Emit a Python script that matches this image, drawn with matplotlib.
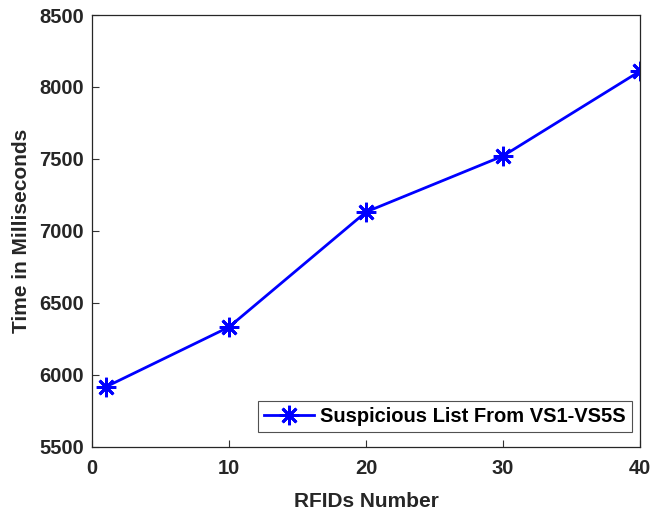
import matplotlib
matplotlib.use("Agg")
import matplotlib.pyplot as plt

# data
rfids = [1, 10, 20, 30, 40]
times = [5917, 6333, 7132, 7521, 8110]
xticks = [0, 10, 20, 30, 40]
yticks = [5500, 6000, 6500, 7000, 7500, 8000, 8500]

plt.rcParams['font.family'] = ['Liberation Sans', 'DejaVu Sans']
plt.rcParams['font.weight'] = 'bold'

fig = plt.figure(figsize=(6.54, 5.12), dpi=100)
ax = fig.add_axes([0.1407, 0.127, 0.8379, 0.8437])

ax.plot(rfids, times, color='#0000ff', linewidth=2, marker=(8, 2, 0),
        markersize=14, markeredgewidth=2, label='Suspicious List From VS1-VS5S')

ax.set_xlim(0, 40)
ax.set_ylim(5500, 8500)
ax.set_xticks(xticks)
ax.set_yticks(yticks)
ax.tick_params(direction='in', labelsize=14.5, length=5, width=0.8, color='#333333')
ax.tick_params(axis='y', pad=6)
ax.tick_params(axis='x', pad=9)
for lbl in ax.get_xticklabels() + ax.get_yticklabels():
    lbl.set_fontweight('bold')
    lbl.set_color('#262626')
for s in ax.spines.values():
    s.set_color('#262626')
    s.set_linewidth(0.9)

ax.set_xlabel('RFIDs Number', fontsize=15, fontweight='bold', color='#262626', labelpad=10)
ax.set_ylabel('Time in Milliseconds', fontsize=15, fontweight='bold', color='#262626', labelpad=6)

leg = ax.legend(loc='lower right', bbox_to_anchor=(1 - 8 / 548, 15 / 432),
                fontsize=14.5, frameon=True, fancybox=False,
                edgecolor='#262626', borderaxespad=0, handlelength=2.5,
                borderpad=0.3, handletextpad=0.3)
leg.get_frame().set_linewidth(0.8)
for t in leg.get_texts():
    t.set_fontweight('bold')

fig.savefig('out.png', dpi=100)
